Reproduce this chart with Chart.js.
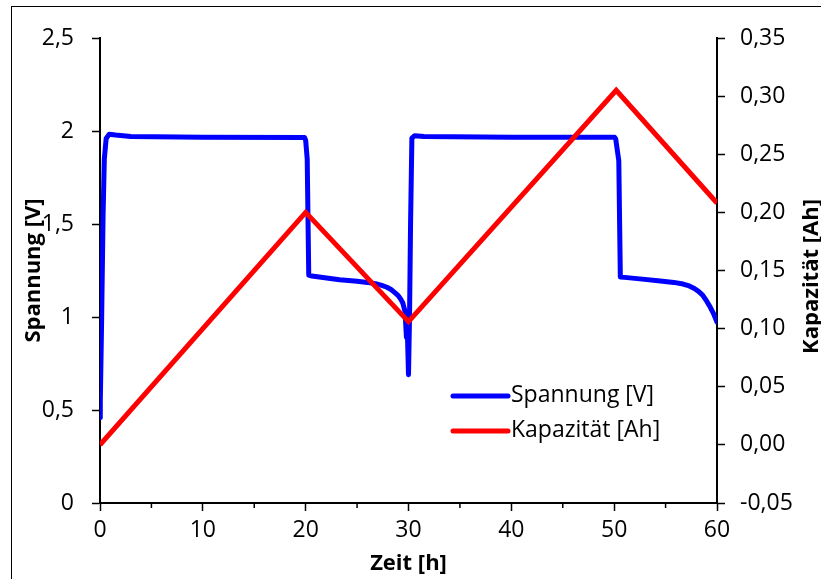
<!DOCTYPE html>
<html><head><meta charset="utf-8">
<script src="https://cdn.jsdelivr.net/npm/chart.js@4/dist/chart.umd.min.js"></script>
<style>html,body{margin:0;padding:0;background:#fff;overflow:hidden}canvas{display:block}</style>
</head><body>
<canvas id="c" width="821" height="579"></canvas>
<script>
// ---- data ----
const timeV = [0, 0.03, 0.15, 0.3, 0.42, 0.6, 0.9, 1.5, 3, 10, 19.9, 20.0, 20.15, 20.3, 20.6, 21.5, 23.3, 25.0, 26.0, 26.8, 27.4, 27.9, 28.3, 28.7, 29.0, 29.2, 29.45, 29.66, 29.8, 29.9, 30.0, 30.1, 30.2, 30.33, 30.6, 31.5, 40, 50.05, 50.15, 50.45, 50.6, 51, 52.5, 54.5, 55.8, 56.7, 57.3, 57.8, 58.2, 58.6, 59.0, 59.35, 59.65, 60];
const voltage = [0.46, 0.55, 0.95, 1.55, 1.85, 1.96, 1.983, 1.978, 1.97, 1.967, 1.965, 1.95, 1.85, 1.225, 1.22, 1.214, 1.2, 1.192, 1.186, 1.179, 1.17, 1.16, 1.148, 1.13, 1.115, 1.1, 1.075, 1.03, 0.89, 0.9, 0.69, 1.0, 1.5, 1.962, 1.975, 1.97, 1.967, 1.966, 1.958, 1.84, 1.215, 1.213, 1.205, 1.194, 1.186, 1.177, 1.167, 1.153, 1.138, 1.118, 1.085, 1.052, 1.02, 0.973];
const timeC = [0, 20, 30, 50.2, 60];
const capacity = [0, 0.200, 0.106, 0.305, 0.208];

const xTickValues = [0, 10, 20, 30, 40, 50, 60];
const xTickLabels = ['0', '10', '20', '30', '40', '50', '60'];
const minorXTicks = [5, 15, 25, 35, 45, 55];
const leftTickValues = [0, 0.5, 1, 1.5, 2, 2.5];
const leftTickLabels = ['0', '0,5', '1', '1,5', '2', '2,5'];
const rightTickValues = [-0.05, 0, 0.05, 0.1, 0.15, 0.2, 0.25, 0.3, 0.35];
const rightTickLabels = ['-0,05', '0,00', '0,05', '0,10', '0,15', '0,20', '0,25', '0,30', '0,35'];

const seriesNames = ['Spannung [V]', 'Kapazität [Ah]'];
const titleX = 'Zeit [h]';
const titleY = 'Spannung [V]';
const titleY1 = 'Kapazität [Ah]';

// ---- styling ----
const FAMILY = "'Open Sans', sans-serif";
const tickFont = { family: FAMILY, size: 23 };
const titleFont = { family: FAMILY, size: 22, weight: 'bold' };
const gridOpts = { display: true, drawOnChartArea: false, drawTicks: true, tickLength: 8, tickColor: '#000', tickWidth: 1.5 };
const borderOpts = { display: true, color: '#000', width: 2 };

const extrasPlugin = {
  id: 'extras',
  afterDraw(chart) {
    const { ctx, chartArea: ca, scales } = chart;
    ctx.save();
    // outer frame (cropped in the reference)
    ctx.strokeStyle = '#000';
    ctx.lineWidth = 1;
    ctx.strokeRect(11.5, 6.5, 2000, 2000);
    // minor x ticks
    ctx.lineWidth = 1.5;
    ctx.beginPath();
    minorXTicks.forEach(v => {
      const px = scales.x.getPixelForValue(v);
      ctx.moveTo(px, ca.bottom);
      ctx.lineTo(px, ca.bottom + 5);
    });
    ctx.stroke();
    // right axis title (reads bottom to top)
    ctx.fillStyle = '#000';
    ctx.font = 'bold 22px ' + FAMILY;
    ctx.textAlign = 'center';
    ctx.textBaseline = 'middle';
    ctx.translate(ca.right + 95, (ca.top + ca.bottom) / 2 + 6);
    ctx.rotate(-Math.PI / 2);
    ctx.fillText(titleY1, 0, 0);
    ctx.restore();

    // legend inside plot
    ctx.save();
    ctx.font = '23px ' + FAMILY;
    ctx.textAlign = 'left';
    ctx.textBaseline = 'middle';
    chart.data.datasets.forEach((ds, i) => {
      const y = ca.top + 358 + i * 35;
      const x0 = ca.left + 353;
      ctx.strokeStyle = ds.borderColor;
      ctx.lineWidth = 5;
      ctx.lineCap = 'round';
      ctx.beginPath();
      ctx.moveTo(x0, y);
      ctx.lineTo(x0 + 55, y);
      ctx.stroke();
      ctx.fillStyle = '#000';
      ctx.fillText(ds.label, x0 + 58, y - 1);
    });
    ctx.restore();
  }
};

new Chart(document.getElementById('c'), {
  type: 'line',
  data: {
    datasets: [
      {
        label: seriesNames[0],
        data: timeV.map((t, i) => ({ x: t, y: voltage[i] })),
        yAxisID: 'y',
        borderColor: '#0000FF',
        backgroundColor: '#0000FF',
        borderWidth: 5,
        pointRadius: 0,
        tension: 0,
        borderJoinStyle: 'round',
        borderCapStyle: 'round',
        order: 1
      },
      {
        label: seriesNames[1],
        data: timeC.map((t, i) => ({ x: t, y: capacity[i] })),
        yAxisID: 'y1',
        borderColor: '#FF0000',
        backgroundColor: '#FF0000',
        borderWidth: 5,
        pointRadius: 0,
        tension: 0,
        borderJoinStyle: 'miter',
        borderCapStyle: 'butt',
        order: 0
      }
    ]
  },
  options: {
    responsive: false,
    animation: false,
    layout: { padding: { top: 38, left: 0, right: 0, bottom: 0 } },
    plugins: { legend: { display: false }, tooltip: { enabled: false } },
    scales: {
      x: {
        type: 'linear', min: 0, max: 60,
        afterBuildTicks: s => { s.ticks = xTickValues.map(v => ({ value: v })); },
        ticks: { font: tickFont, color: '#000', padding: 6, maxRotation: 0, autoSkip: false, callback: (v, i) => xTickLabels[i] },
        grid: gridOpts, border: borderOpts,
        title: { display: true, text: titleX, font: titleFont, color: '#000', padding: { top: 0, bottom: 2 } },
        afterFit: s => { s.height = 76; }
      },
      y: {
        type: 'linear', position: 'left', min: 0, max: 2.5,
        afterBuildTicks: s => { s.ticks = leftTickValues.map(v => ({ value: v })); },
        ticks: { font: tickFont, color: '#000', padding: 18, autoSkip: false, callback: (v, i) => leftTickLabels[i] },
        grid: gridOpts, border: borderOpts,
        title: { display: true, text: titleY, font: titleFont, color: '#000', padding: { top: 21, bottom: 0 } },
        afterFit: s => { s.width = 100; }
      },
      y1: {
        type: 'linear', position: 'right', min: -0.05, max: 0.35,
        afterBuildTicks: s => { s.ticks = rightTickValues.map(v => ({ value: v })); },
        ticks: { font: tickFont, color: '#000', padding: 15, autoSkip: false, callback: (v, i) => rightTickLabels[i] },
        grid: gridOpts, border: borderOpts,
        afterFit: s => { s.width = 104; }
      }
    }
  },
  plugins: [extrasPlugin]
});
</script>
</body></html>
